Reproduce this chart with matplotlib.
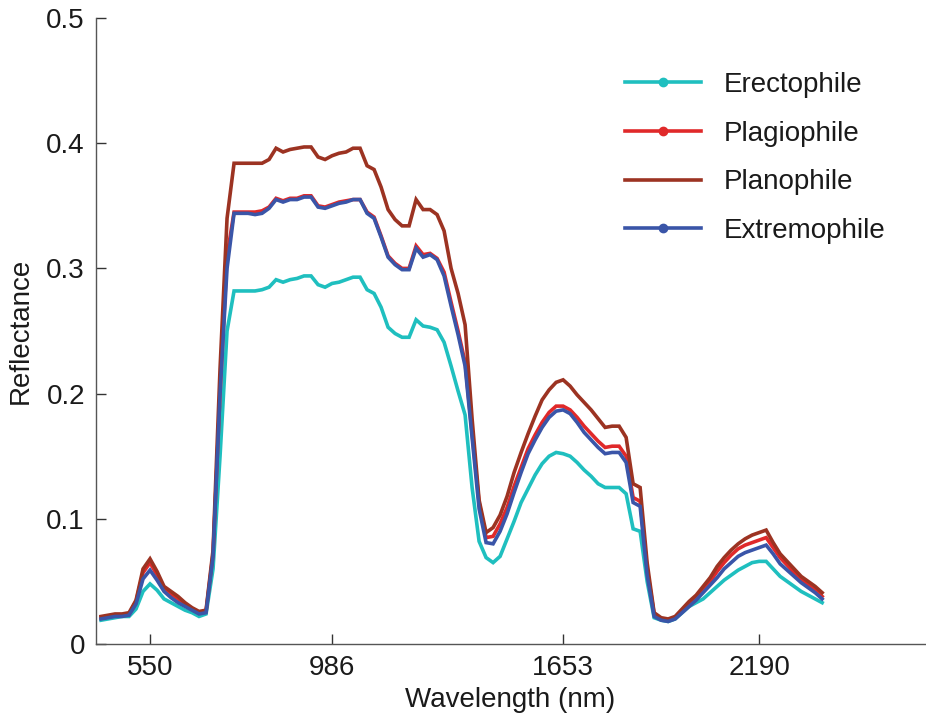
import numpy as np
import matplotlib.pyplot as plt
from matplotlib.lines import Line2D

plt.rcParams['font.family'] = ['Liberation Sans', 'DejaVu Sans']

# reflectance per band (band index 0..103)
erectophile = [
    0.019, 0.020, 0.021, 0.022, 0.022, 0.028, 0.042, 0.048, 0.043, 0.036,
    0.033, 0.030, 0.027, 0.025, 0.022, 0.024, 0.060, 0.150, 0.250, 0.282,
    0.282, 0.282, 0.282, 0.283, 0.285, 0.291, 0.289, 0.291, 0.292, 0.294,
    0.294, 0.287, 0.285, 0.288, 0.289, 0.291, 0.293, 0.293, 0.283, 0.280,
    0.269, 0.253, 0.248, 0.245, 0.245, 0.259, 0.254, 0.253, 0.251, 0.241,
    0.222, 0.202, 0.183, 0.125, 0.082, 0.069, 0.065, 0.070, 0.084, 0.098,
    0.113, 0.124, 0.135, 0.144, 0.150, 0.153, 0.152, 0.150, 0.145, 0.139,
    0.134, 0.128, 0.125, 0.125, 0.125, 0.120, 0.092, 0.090, 0.050, 0.021,
    0.019, 0.018, 0.020, 0.025, 0.030, 0.033, 0.036, 0.041, 0.046, 0.051,
    0.055, 0.059, 0.062, 0.065, 0.066, 0.066, 0.060, 0.054, 0.050, 0.046,
    0.042, 0.039, 0.036, 0.033]
plagiophile = [
    0.021, 0.022, 0.023, 0.023, 0.024, 0.034, 0.057, 0.065, 0.055, 0.044,
    0.040, 0.036, 0.032, 0.028, 0.025, 0.026, 0.072, 0.200, 0.310, 0.345,
    0.345, 0.345, 0.345, 0.346, 0.349, 0.356, 0.354, 0.356, 0.356, 0.358,
    0.358, 0.350, 0.349, 0.351, 0.353, 0.354, 0.355, 0.355, 0.345, 0.341,
    0.326, 0.310, 0.304, 0.300, 0.300, 0.318, 0.311, 0.312, 0.308, 0.297,
    0.273, 0.250, 0.225, 0.168, 0.113, 0.085, 0.086, 0.096, 0.109, 0.126,
    0.141, 0.156, 0.167, 0.177, 0.185, 0.190, 0.190, 0.187, 0.181, 0.174,
    0.168, 0.162, 0.157, 0.158, 0.158, 0.150, 0.117, 0.114, 0.060, 0.024,
    0.020, 0.019, 0.021, 0.026, 0.032, 0.037, 0.043, 0.050, 0.058, 0.065,
    0.071, 0.076, 0.079, 0.081, 0.083, 0.085, 0.077, 0.069, 0.063, 0.057,
    0.052, 0.047, 0.043, 0.038]
planophile = [
    0.022, 0.023, 0.024, 0.024, 0.025, 0.035, 0.060, 0.068, 0.058, 0.046,
    0.042, 0.038, 0.033, 0.029, 0.026, 0.027, 0.075, 0.220, 0.340, 0.384,
    0.384, 0.384, 0.384, 0.384, 0.387, 0.396, 0.393, 0.395, 0.396, 0.397,
    0.397, 0.389, 0.387, 0.390, 0.392, 0.393, 0.396, 0.396, 0.382, 0.379,
    0.365, 0.347, 0.339, 0.334, 0.334, 0.355, 0.347, 0.347, 0.343, 0.330,
    0.300, 0.280, 0.255, 0.180, 0.115, 0.089, 0.093, 0.103, 0.118, 0.137,
    0.153, 0.168, 0.182, 0.195, 0.203, 0.209, 0.211, 0.206, 0.199, 0.193,
    0.187, 0.180, 0.173, 0.174, 0.174, 0.165, 0.128, 0.125, 0.065, 0.025,
    0.021, 0.020, 0.022, 0.028, 0.034, 0.039, 0.046, 0.053, 0.062, 0.069,
    0.075, 0.080, 0.084, 0.087, 0.089, 0.091, 0.081, 0.072, 0.066, 0.060,
    0.054, 0.050, 0.046, 0.041]
extremophile = [
    0.020, 0.021, 0.022, 0.022, 0.023, 0.032, 0.052, 0.059, 0.051, 0.042,
    0.037, 0.033, 0.030, 0.027, 0.024, 0.025, 0.070, 0.200, 0.300, 0.344,
    0.344, 0.344, 0.343, 0.344, 0.348, 0.355, 0.353, 0.355, 0.355, 0.357,
    0.357, 0.349, 0.348, 0.350, 0.352, 0.353, 0.355, 0.355, 0.344, 0.340,
    0.325, 0.309, 0.303, 0.299, 0.299, 0.316, 0.309, 0.311, 0.307, 0.294,
    0.270, 0.247, 0.222, 0.165, 0.108, 0.081, 0.080, 0.090, 0.104, 0.121,
    0.137, 0.152, 0.163, 0.173, 0.181, 0.186, 0.187, 0.184, 0.177, 0.169,
    0.163, 0.157, 0.152, 0.153, 0.153, 0.145, 0.113, 0.110, 0.055, 0.022,
    0.019, 0.018, 0.020, 0.025, 0.030, 0.035, 0.041, 0.047, 0.053, 0.060,
    0.065, 0.070, 0.073, 0.075, 0.077, 0.079, 0.072, 0.064, 0.059, 0.054,
    0.049, 0.045, 0.041, 0.036]

tick_bands = [7, 33, 66, 94]
tick_labels = ['550', '986', '1653', '2190']

series = [
    ('Erectophile', erectophile, '#1fbfbf', True),
    ('Plagiophile', plagiophile, '#e0292a', True),
    ('Planophile', planophile, '#9c3322', False),
    ('Extremophile', extremophile, '#3a55a8', True),
]

fig = plt.figure(figsize=(9.26, 7.21), dpi=100)
ax = fig.add_axes([0.1037, 0.1068, 0.8953, 0.8682])

bands = np.arange(len(erectophile))
handles = []
for name, vals, col, dot in series:
    ax.plot(bands, vals, color=col, lw=2.6, solid_joinstyle='miter')
    handles.append(Line2D([0, 0.5, 1], [0, 0, 0], color=col, lw=2.6,
                          marker='o' if dot else None, markersize=6,
                          markevery=[1] if dot else None,
                          label=name))

ax.set_xlim(-0.714, 117.7)
ax.set_ylim(0, 0.5)
ax.set_xticks(tick_bands)
ax.set_xticklabels(tick_labels)
ax.set_yticks([0, 0.1, 0.2, 0.3, 0.4, 0.5])
ax.set_yticklabels(['0', '0.1', '0.2', '0.3', '0.4', '0.5'])

for s in ['top', 'right']:
    ax.spines[s].set_visible(False)
for s in ['left', 'bottom']:
    ax.spines[s].set_color('#555555')
    ax.spines[s].set_linewidth(1.0)
ax.tick_params(direction='in', length=7, width=1, color='#333333',
               labelsize=20, labelcolor='#1a1a1a', pad=8)

ax.set_xlabel('Wavelength (nm)', fontsize=20, color='#1a1a1a', labelpad=4)
ax.set_ylabel('Reflectance', fontsize=20, color='#1a1a1a', labelpad=9)

leg = ax.legend(handles=handles, loc='upper left', bbox_to_anchor=(0.638, 0.914),
                frameon=False, fontsize=20, handlelength=2.75, handletextpad=0.8,
                labelspacing=0.82, borderpad=0, borderaxespad=0)
for t in leg.get_texts():
    t.set_color('#1a1a1a')

fig.savefig('out.png', dpi=100)
